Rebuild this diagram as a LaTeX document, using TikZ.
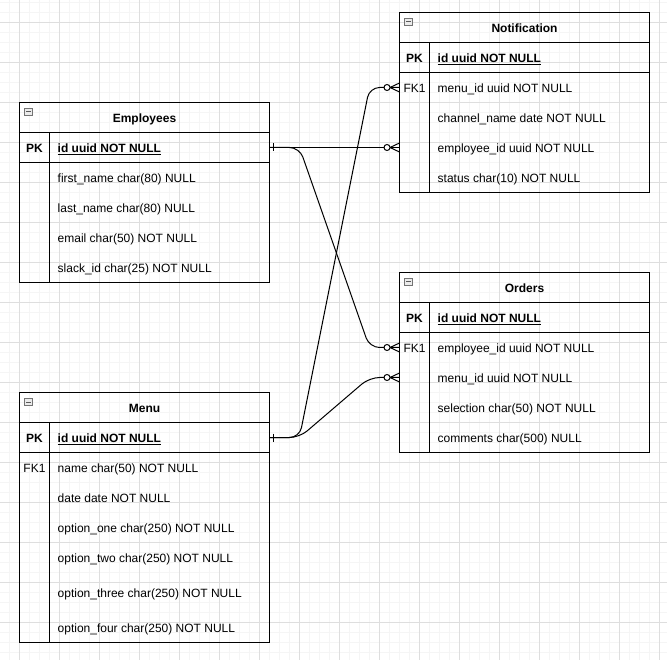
\documentclass[tikz,border=0pt]{standalone}
\usepackage{fontspec}
\setmainfont{Liberation Sans}
\usetikzlibrary{calc}

\tikzset{
  gridminor/.style={line width=1pt, draw=black!4},
  gridmajor/.style={line width=1pt, draw=black!13},
  tablebox/.style={draw, line width=1pt, minimum width=250pt, inner sep=0pt, outer sep=0pt},
  divider/.style={line width=1pt},
  basetext/.style={inner sep=0pt, text height=9.4pt, text depth=0pt, font=\fontsize{12}{14}\selectfont},
  tabtitle/.style={basetext, font=\fontsize{12}{14}\selectfont\bfseries},
  keylab/.style={basetext},
  pklab/.style={basetext, font=\fontsize{12}{14}\selectfont\bfseries},
  fieldtext/.style={basetext, anchor=west},
  pkfield/.style={fieldtext, font=\fontsize{12}{14}\selectfont\bfseries},
  link/.style={line width=1pt, rounded corners=10pt},
  collapse/.style={draw=black!55, fill=black!8, line width=0.8pt},
  collapse dash/.style={draw=black!65, line width=1pt},
  onemark/.pic={\draw[line width=1pt] (4,-4) -- (4,4);},
  manymark/.pic={
    \draw[line width=1pt] (-9.5,0) -- (0,-4.5) (-9.5,0) -- (0,4.5);
    \draw[line width=1pt, fill=white] (-12.5,0) circle (3pt);
  },
}

% header rule, key rule, key column and collapse button of an entity table
\newcommand\erdividers[1]{%
  \draw[divider] ([yshift=-30pt]#1.north west) -- ([yshift=-30pt]#1.north east)
    ([yshift=-60pt]#1.north west) -- ([yshift=-60pt]#1.north east)
    ([shift={(30pt,-30pt)}]#1.north west) -- ([xshift=30pt]#1.south west);
  \draw[collapse] ([shift={(5pt,-6pt)}]#1.north west) rectangle ++(8,7);
  \draw[collapse dash] ([shift={(6.5pt,-9.5pt)}]#1.north west) -- ++(5,0);
}

\begin{document}
\begin{tikzpicture}[x=1pt,y=-1pt]
\useasboundingbox (0,0) rectangle (667,660);
\fill[white] (0,0) rectangle (667,660);

% background grid
\foreach \x in {-0.5,9.5,...,669.5} \draw[gridminor] (\x,0) -- (\x,660);
\foreach \y in {2.5,12.5,...,662.5} \draw[gridminor] (0,\y) -- (667,\y);
\foreach \x in {19.5,59.5,...,659.5} \draw[gridmajor] (\x,0) -- (\x,660);
\foreach \y in {22.5,62.5,...,662.5} \draw[gridmajor] (0,\y) -- (667,\y);

% ---------- Employees ----------
\node[tablebox, minimum height=180pt, anchor=north west] (emp) at (19.5,102.5) {};
\erdividers{emp}
\node[tabtitle] (emp-title) at ([yshift=-15pt]emp.north) {Employees};
\node[pklab] (emp-pk) at ([shift={(15pt,-45pt)}]emp.north west) {PK};
\node[pkfield] (emp-id) at ([shift={(38pt,-45pt)}]emp.north west) {\underline{id uuid NOT NULL}};
\node[fieldtext] (emp-first) at ([shift={(38pt,-75pt)}]emp.north west) {first\_name char(80) NULL};
\node[fieldtext] (emp-last) at ([shift={(38pt,-105pt)}]emp.north west) {last\_name char(80) NULL};
\node[fieldtext] (emp-email) at ([shift={(38pt,-135pt)}]emp.north west) {email char(50) NOT NULL};
\node[fieldtext] (emp-slack) at ([shift={(38pt,-165pt)}]emp.north west) {slack\_id char(25) NOT NULL};

% ---------- Menu ----------
\node[tablebox, minimum height=250pt, anchor=north west] (menu) at (19.5,392.5) {};
\erdividers{menu}
\node[tabtitle] (menu-title) at ([yshift=-15pt]menu.north) {Menu};
\node[pklab] (menu-pk) at ([shift={(15pt,-45pt)}]menu.north west) {PK};
\node[pkfield] (menu-id) at ([shift={(38pt,-45pt)}]menu.north west) {\underline{id uuid NOT NULL}};
\node[keylab] (menu-fk) at ([shift={(15pt,-75pt)}]menu.north west) {FK1};
\node[fieldtext] (menu-name) at ([shift={(38pt,-75pt)}]menu.north west) {name char(50) NOT NULL};
\node[fieldtext] (menu-date) at ([shift={(38pt,-105pt)}]menu.north west) {date date NOT NULL};
\node[fieldtext] (menu-one) at ([shift={(38pt,-135pt)}]menu.north west) {option\_one char(250) NOT NULL};
\node[fieldtext] (menu-two) at ([shift={(38pt,-165pt)}]menu.north west) {option\_two char(250) NOT NULL};
\node[fieldtext] (menu-three) at ([shift={(38pt,-200pt)}]menu.north west) {option\_three char(250) NOT NULL};
\node[fieldtext] (menu-four) at ([shift={(38pt,-235pt)}]menu.north west) {option\_four char(250) NOT NULL};

% ---------- Notification ----------
\node[tablebox, minimum height=180pt, anchor=north west] (notif) at (399.5,12.5) {};
\erdividers{notif}
\node[tabtitle] (notif-title) at ([yshift=-15pt]notif.north) {Notification};
\node[pklab] (notif-pk) at ([shift={(15pt,-45pt)}]notif.north west) {PK};
\node[pkfield] (notif-id) at ([shift={(38pt,-45pt)}]notif.north west) {\underline{id uuid NOT NULL}};
\node[keylab] (notif-fk) at ([shift={(15pt,-75pt)}]notif.north west) {FK1};
\node[fieldtext] (notif-menu) at ([shift={(38pt,-75pt)}]notif.north west) {menu\_id uuid NOT NULL};
\node[fieldtext] (notif-chan) at ([shift={(38pt,-105pt)}]notif.north west) {channel\_name date NOT NULL};
\node[fieldtext] (notif-emp) at ([shift={(38pt,-135pt)}]notif.north west) {employee\_id uuid NOT NULL};
\node[fieldtext] (notif-status) at ([shift={(38pt,-165pt)}]notif.north west) {status char(10) NOT NULL};

% ---------- Orders ----------
\node[tablebox, minimum height=180pt, anchor=north west] (ord) at (399.5,272.5) {};
\erdividers{ord}
\node[tabtitle] (ord-title) at ([yshift=-15pt]ord.north) {Orders};
\node[pklab] (ord-pk) at ([shift={(15pt,-45pt)}]ord.north west) {PK};
\node[pkfield] (ord-id) at ([shift={(38pt,-45pt)}]ord.north west) {\underline{id uuid NOT NULL}};
\node[keylab] (ord-fk) at ([shift={(15pt,-75pt)}]ord.north west) {FK1};
\node[fieldtext] (ord-emp) at ([shift={(38pt,-75pt)}]ord.north west) {employee\_id uuid NOT NULL};
\node[fieldtext] (ord-menu) at ([shift={(38pt,-105pt)}]ord.north west) {menu\_id uuid NOT NULL};
\node[fieldtext] (ord-sel) at ([shift={(38pt,-135pt)}]ord.north west) {selection char(50) NOT NULL};
\node[fieldtext] (ord-comm) at ([shift={(38pt,-165pt)}]ord.north west) {comments char(500) NULL};

% ---------- relationships ----------
\draw[link] (emp.east |- emp-id) -- (notif.west |- notif-emp);
\draw[link] (emp.east |- emp-id) -- ++(30,0)
  -- ($(ord.west |- ord-emp)+(-30,0)$) -- (ord.west |- ord-emp);
\draw[link] (menu.east |- menu-id) -- ++(30,0)
  -- ($(notif.west |- notif-menu)+(-30,0)$) -- (notif.west |- notif-menu);
\draw[link] (menu.east |- menu-id) -- ++(30,0)
  -- ($(ord.west |- ord-menu)+(-30,0)$) -- (ord.west |- ord-menu);

\pic at (emp.east |- emp-id) {onemark};
\pic at (menu.east |- menu-id) {onemark};
\pic at (notif.west |- notif-emp) {manymark};
\pic at (notif.west |- notif-menu) {manymark};
\pic at (ord.west |- ord-emp) {manymark};
\pic at (ord.west |- ord-menu) {manymark};
\end{tikzpicture}
\end{document}
